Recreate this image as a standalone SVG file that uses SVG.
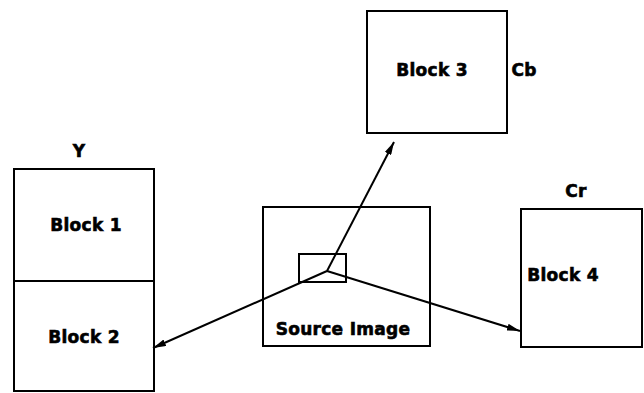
<svg xmlns="http://www.w3.org/2000/svg" width="644" height="393" viewBox="0 0 644 393">
  <defs>
    <marker id="arrow" viewBox="0 0 13 7" refX="13" refY="3.5" markerWidth="13" markerHeight="7" markerUnits="userSpaceOnUse" orient="auto">
      <path d="M0,0 L13,3.5 L0,7 Z" fill="#000"/>
    </marker>
  </defs>
  <style>
    .box { fill: #fff; stroke: #000; stroke-width: 2; }
    .lbl { font-family: "DejaVu Sans", "Liberation Sans", sans-serif; font-weight: bold; font-size: 17px; fill: #000; stroke: #000; stroke-width: 0.6; letter-spacing: 0.3px; text-anchor: middle; }
    .edge { fill: none; stroke: #000; stroke-width: 2; }
  </style>
  <rect width="644" height="393" fill="#fff"/>

  <!-- Y plane: two stacked blocks -->
  <g id="block1">
    <rect class="box" x="14" y="169" width="140" height="112"/>
    <text class="lbl" x="86" y="231">Block 1</text>
  </g>
  <g id="block2">
    <rect class="box" x="14" y="281" width="140" height="110"/>
    <text class="lbl" x="84" y="343">Block 2</text>
  </g>
  <text class="lbl" x="79" y="157">Y</text>

  <!-- Cb plane -->
  <g id="block3">
    <rect class="box" x="367" y="11" width="140" height="122"/>
    <text class="lbl" x="432" y="76">Block 3</text>
  </g>
  <text class="lbl" x="524" y="76">Cb</text>

  <!-- Cr plane -->
  <g id="block4">
    <rect class="box" x="521" y="209" width="121" height="138"/>
    <text class="lbl" x="563" y="281">Block 4</text>
  </g>
  <text class="lbl" x="576" y="197">Cr</text>

  <!-- Source image with selected region -->
  <g id="source">
    <rect class="box" x="263" y="207" width="167" height="139"/>
    <rect class="box" x="299" y="254" width="47" height="28"/>
    <text class="lbl" x="343" y="335">Source Image</text>
  </g>

  <g id="connectors">
    <line class="edge" x1="327" y1="271" x2="394" y2="142" marker-end="url(#arrow)"/>
    <line class="edge" x1="327" y1="271" x2="153" y2="348" marker-end="url(#arrow)"/>
    <line class="edge" x1="327" y1="271" x2="520" y2="331" marker-end="url(#arrow)"/>
  </g>
</svg>
